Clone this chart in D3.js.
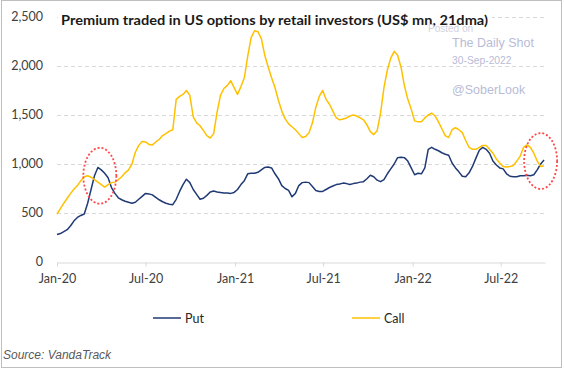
<!DOCTYPE html>
<html>
<head>
<meta charset="utf-8">
<script src="https://cdn.jsdelivr.net/npm/d3@7"></script>
<style>
  body { margin: 0; background: #fff; }
  svg { display: block; font-family: Lato, "Open Sans", sans-serif; }
</style>
</head>
<body>
<div id="chart"></div>
<script>
// weekly samples starting 1-Jan-2020 (21dma, US$ mn)
const startDate = '2020-01-01';
const stepDays = 7;

const putValues = [
    280, 290, 310, 330, 370, 420, 455, 475, 490, 600,
    740, 880, 965, 940, 905, 860, 760, 700, 655, 635,
    620, 610, 600, 610, 640, 670, 700, 695, 685, 660,
    635, 615, 600, 590, 585, 640, 720, 790, 845, 810,
    740, 690, 640, 650, 680, 715, 725, 715, 710, 705,
    705, 700, 710, 740, 790, 830, 900, 905, 905, 915,
    940, 965, 970, 960, 900, 850, 780, 750, 730, 665,
    700, 780, 810, 815, 810, 770, 730, 720, 720, 740,
    760, 775, 790, 795, 805, 800, 790, 800, 805, 815,
    820, 850, 885, 870, 835, 820, 840, 900, 950, 1000,
    1065, 1070, 1065, 1030, 960, 890, 905, 900, 960, 1150,
    1170, 1150, 1135, 1115, 1100, 1090, 1010, 960, 920, 875,
    870, 910, 975, 1060, 1140, 1170, 1150, 1110, 1030, 990,
    960, 950, 900, 875, 870, 870, 880, 880, 885, 880,
    890, 940, 1000, 1040
];

const callValues = [
    490, 545, 600, 650, 700, 745, 780, 830, 870, 880,
    865, 840, 815, 790, 765, 790, 810, 815, 840, 870,
    910, 940, 1000, 1120, 1190, 1230, 1225, 1200, 1195, 1225,
    1250, 1290, 1310, 1335, 1350, 1660, 1690, 1710, 1750, 1700,
    1480, 1420, 1390, 1340, 1290, 1265, 1310, 1530, 1700, 1770,
    1800, 1850, 1780, 1710, 1790, 1880, 2100, 2290, 2360, 2350,
    2280, 2110, 1990, 1880, 1780, 1650, 1540, 1460, 1410, 1380,
    1350, 1310, 1270, 1280, 1320, 1420, 1580, 1690, 1750, 1660,
    1610, 1540, 1470, 1450, 1460, 1470, 1490, 1500, 1490, 1470,
    1450, 1400, 1330, 1300, 1340, 1520, 1780, 1960, 2080, 2150,
    2110, 1990, 1800, 1660, 1560, 1440, 1430, 1430, 1470, 1500,
    1520, 1490, 1430, 1360, 1290, 1270, 1350, 1370, 1350, 1320,
    1240, 1170, 1150, 1150, 1170, 1190, 1190, 1150, 1110, 1050,
    1010, 975, 970, 975, 985, 1030, 1080, 1170, 1195, 1170,
    1110, 1030, 975, 980
];

const yTicks = [0, 500, 1000, 1500, 2000, 2500];
const xTickDates = ['2020-01-01', '2020-07-01', '2021-01-01', '2021-07-01', '2022-01-01', '2022-07-01'];
const xTickLabels = ['Jan-20', 'Jul-20', 'Jan-21', 'Jul-21', 'Jan-22', 'Jul-22'];
const seriesNames = ['Put', 'Call'];
const seriesColors = ['#203a75', '#ffc000'];
// highlighted areas (date, value)
const highlightDates = ['2020-03-29', '2022-09-21'];
const highlightValues = [880, 1030];

const W = 564, H = 370;
const margin = { top: 17, right: 19, bottom: 108, left: 57 };
const parse = d3.utcParse('%Y-%m-%d');
const start = parse(startDate);
const dates = putValues.map((_, i) => d3.utcDay.offset(start, i * stepDays));

const svg = d3.select('#chart').append('svg')
    .attr('width', W)
    .attr('height', H);

const x = d3.scaleUtc()
    .domain([start, parse('2022-09-30')])
    .range([margin.left, W - margin.right]);

const y = d3.scaleLinear()
    .domain([0, 2500])
    .range([H - margin.bottom, margin.top]);

// outer frame
svg.append('rect')
    .attr('x', 1.5).attr('y', 0.5)
    .attr('width', 560).attr('height', 367)
    .attr('fill', 'none')
    .attr('stroke', '#bfbfbf');

// gridlines
svg.append('g')
    .selectAll('line')
    .data(yTicks.filter(d => d > 0))
    .enter().append('line')
    .attr('x1', x.range()[0])
    .attr('x2', x.range()[1])
    .attr('y1', d => Math.round(y(d)) + 0.5)
    .attr('y2', d => Math.round(y(d)) + 0.5)
    .attr('stroke', '#d9d9d9')
    .attr('stroke-dasharray', '4,3');

// y labels
svg.append('g')
    .selectAll('text')
    .data(yTicks)
    .enter().append('text')
    .attr('x', 43)
    .attr('y', d => y(d) + 4)
    .attr('text-anchor', 'end')
    .style('font-size', '12.5px')
    .style('fill', '#404040')
    .text(d => d3.format(',')(d));

// x axis
const xAxis = svg.append('g')
    .attr('transform', `translate(0, ${Math.round(y(0)) + 0.5})`)
    .call(d3.axisBottom(x)
        .tickValues(xTickDates.map(parse))
        .tickFormat((d, i) => xTickLabels[i])
        .tickSize(4)
        .tickSizeOuter(0));
xAxis.select('.domain').attr('stroke', '#d9d9d9');
xAxis.selectAll('.tick line').attr('stroke', '#d9d9d9');
xAxis.selectAll('.tick text')
    .attr('dy', '1.05em')
    .style('font-family', 'Lato, "Open Sans", sans-serif')
    .style('font-size', '12.5px')
    .style('fill', '#404040');

// lines
const line = d3.line()
    .x((d, i) => x(dates[i]))
    .y(d => y(d));

[putValues, callValues].forEach((vals, k) => {
    svg.append('path')
        .datum(vals)
        .attr('fill', 'none')
        .attr('stroke', seriesColors[k])
        .attr('stroke-width', 1.5)
        .attr('stroke-linejoin', 'round')
        .attr('d', line);
});

// title box + title
svg.append('rect')
    .attr('x', 58).attr('y', 8)
    .attr('width', 434).attr('height', 22)
    .attr('fill', '#fff');
svg.append('text')
    .attr('x', 61)
    .attr('y', 25)
    .attr('textLength', 427)
    .attr('lengthAdjust', 'spacingAndGlyphs')
    .style('font-size', '13.5px')
    .style('font-weight', 'bold')
    .style('fill', '#1a1a1a')
    .text('Premium traded in US options by retail investors (US$ mn, 21dma)');

// highlight ellipses
svg.append('g')
    .selectAll('ellipse')
    .data(highlightDates)
    .enter().append('ellipse')
    .attr('cx', (d, i) => x(parse(d)))
    .attr('cy', (d, i) => y(highlightValues[i]))
    .attr('rx', 16.5)
    .attr('ry', 28)
    .attr('fill', 'none')
    .attr('stroke', '#ff4a4a')
    .attr('stroke-width', 1.8)
    .attr('stroke-dasharray', '2,2');

// watermark
const wm = svg.append('g')
    .style('font-family', '"Liberation Sans", Arial, sans-serif')
    .style('fill', '#b8bcd6');
wm.append('text').attr('x', 428).attr('y', 32).style('font-size', '10px').style('fill', '#d0d2e0').text('Posted on');
wm.append('text').attr('x', 452).attr('y', 47).style('font-size', '12.5px').text('The Daily Shot');
wm.append('text').attr('x', 452).attr('y', 64).style('font-size', '10.3px').text('30-Sep-2022');
wm.append('text').attr('x', 452).attr('y', 94).style('font-size', '12.5px').text('@SoberLook');

// legend
const legendX = [153, 352];
const legend = svg.append('g')
    .selectAll('g')
    .data(seriesNames)
    .enter().append('g')
    .attr('transform', (d, i) => `translate(${legendX[i]}, 318)`);
legend.append('line')
    .attr('x1', 0).attr('x2', 28)
    .attr('stroke', (d, i) => seriesColors[i])
    .attr('stroke-width', 1.5);
legend.append('text')
    .attr('x', 32)
    .attr('y', 4.5)
    .style('font-size', '12.5px')
    .style('fill', '#262626')
    .text(d => d);

// source
svg.append('text')
    .attr('x', 3)
    .attr('y', 359)
    .style('font-family', '"Liberation Sans", Arial, sans-serif')
    .style('font-style', 'italic')
    .style('font-size', '12px')
    .style('fill', '#595959')
    .text('Source: VandaTrack');
</script>
</body>
</html>
